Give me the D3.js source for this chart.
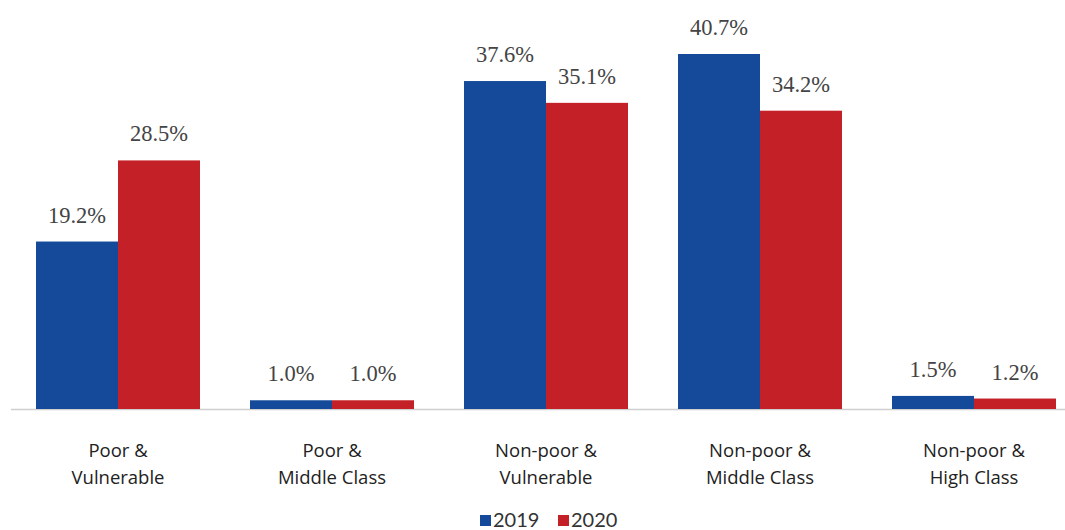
<!DOCTYPE html>
<html>
<head>
<meta charset="utf-8">
<script src="https://cdn.jsdelivr.net/npm/d3@7"></script>
<style>
    body { margin: 0; background: #fff; }
    svg { display: block; }
</style>
</head>
<body>
<svg id="chart" width="1065" height="530"></svg>
<script>
const CATEGORIES = [
    ["Poor &", "Vulnerable"],
    ["Poor &", "Middle Class"],
    ["Non-poor &", "Vulnerable"],
    ["Non-poor &", "Middle Class"],
    ["Non-poor &", "High Class"]
];
const YEARS = ["2019", "2020"];
const VALUES_2019 = [19.2, 1.0, 37.6, 40.7, 1.5];
const VALUES_2020 = [28.5, 1.0, 35.1, 34.2, 1.2];
const COLORS = ["#154a9a", "#c42027"];

const SVG = d3.select("#chart");
const BASE = 409;

const x = d3.scaleBand()
    .domain(d3.range(CATEGORIES.length))
    .range([11, 1081])
    .paddingInner(50 / 214)
    .paddingOuter(25 / 214);

const xInner = d3.scaleBand()
    .domain(YEARS)
    .range([0, x.bandwidth()]);

const y = d3.scaleLinear()
    .domain([0, 40.7])
    .range([BASE, 54]);

const series = [VALUES_2019, VALUES_2020];

// axis line
SVG.append("line")
    .attr("x1", 11).attr("x2", 1065)
    .attr("y1", BASE + 0.5).attr("y2", BASE + 0.5)
    .attr("stroke", "#cfcfcf")
    .attr("stroke-width", 1.5);

const groups = SVG.selectAll("g.group")
    .data(CATEGORIES)
    .join("g")
    .attr("class", "group")
    .attr("transform", (d, i) => `translate(${x(i)},0)`);

YEARS.forEach((yr, s) => {
    groups.append("rect")
        .attr("x", xInner(yr))
        .attr("width", xInner.bandwidth())
        .attr("y", (d, i) => y(series[s][i]))
        .attr("height", (d, i) => BASE - y(series[s][i]))
        .attr("fill", COLORS[s]);

    groups.append("text")
        .attr("x", xInner(yr) + xInner.bandwidth() / 2)
        .attr("y", (d, i) => y(series[s][i]) - 19)
        .attr("text-anchor", "middle")
        .attr("font-family", "'Liberation Serif', 'DejaVu Serif', serif")
        .attr("font-size", 22.5)
        .attr("fill", "#444")
        .text((d, i) => series[s][i].toFixed(1) + "%");
});

// category labels
groups.append("text")
    .attr("x", x.bandwidth() / 2)
    .attr("y", 457)
    .attr("text-anchor", "middle")
    .attr("font-family", "'Open Sans', 'Noto Sans', sans-serif")
    .attr("font-size", 18.5)
    .attr("fill", "#222")
    .selectAll("tspan")
    .data(d => d)
    .join("tspan")
    .attr("x", x.bandwidth() / 2)
    .attr("dy", (d, i) => i === 0 ? 0 : 27)
    .text(d => d);

// legend
const legend = SVG.append("g").attr("transform", "translate(480,515)");
const legendX = [0, 78];
YEARS.forEach((yr, s) => {
    legend.append("rect")
        .attr("x", legendX[s]).attr("y", 0)
        .attr("width", 11).attr("height", 11)
        .attr("fill", COLORS[s]);
    legend.append("text")
        .attr("x", legendX[s] + 13).attr("y", 12)
        .attr("font-family", "Lato, 'Open Sans', sans-serif")
        .attr("font-size", 20)
        .attr("fill", "#333")
        .text(yr);
});
</script>
</body>
</html>
